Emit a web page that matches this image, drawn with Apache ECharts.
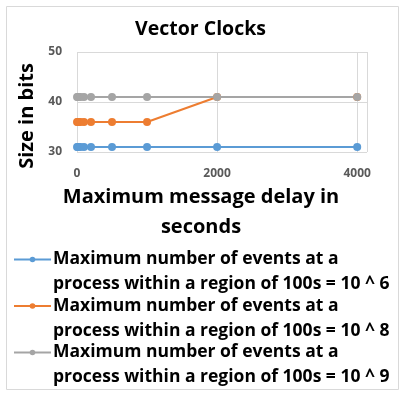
<!DOCTYPE html>
<html>
<head>
<meta charset="utf-8">
<script src="https://cdn.jsdelivr.net/npm/echarts@6/dist/echarts.min.js"></script>
<style>html,body{margin:0;padding:0;background:#fff}#c{width:401px;height:393px}</style>
</head>
<body>
<div id="c"></div>
<script>
var delays = [1, 10, 25, 50, 100, 200, 500, 1000, 2000, 4000];
var series6 = [31, 31, 31, 31, 31, 31, 31, 31, 31, 31];
var series8 = [36, 36, 36, 36, 36, 36, 36, 36, 41, 41];
var series9 = [41, 41, 41, 41, 41, 41, 41, 41, 41, 41];
var names = [
  'Maximum number of events at a\nprocess within a region of 100s = 10 ^ 6',
  'Maximum number of events at a\nprocess within a region of 100s = 10 ^ 8',
  'Maximum number of events at a\nprocess within a region of 100s = 10 ^ 9'
];
var colors = ['#5b9bd5', '#ed7d31', '#a5a5a5'];
var FONT = 'Open Sans';

function pairs(vals) { return delays.map(function (d, i) { return [d, vals[i]]; }); }
function mk(name, vals, color) {
  return {
    name: name, type: 'line', data: pairs(vals),
    symbol: 'circle', symbolSize: 8,
    lineStyle: { color: color, width: 2 },
    itemStyle: { color: color },
    animation: false
  };
}

var chart = echarts.init(document.getElementById('c'));
chart.setOption({
  animation: false,
  title: {
    text: 'Vector Clocks', left: 'center', top: 14,
    textStyle: { fontFamily: FONT, fontSize: 19.5, fontWeight: 'bold', color: '#000' }
  },
  grid: { left: 77, right: 34, top: 52, bottom: 241 },
  xAxis: {
    type: 'value', min: 0, max: 4140, interval: 2000,
    axisLine: { show: false },
    axisTick: { show: false },
    splitLine: { show: true, lineStyle: { color: '#d9d9d9', width: 1 } },
    axisLabel: {
      fontFamily: FONT, fontSize: 12, fontWeight: 'bold', color: '#595959', margin: 16,
      formatter: function (v) { return (v % 2000 === 0) ? String(v) : ''; }
    },
    name: 'Maximum message delay in\nseconds', nameLocation: 'middle', nameGap: 30,
    nameTextStyle: { fontFamily: FONT, fontSize: 20, fontWeight: 'bold', color: '#000', lineHeight: 30, padding: [0, 42, 0, 0] }
  },
  yAxis: {
    type: 'value', min: 30, max: 50, interval: 10,
    axisLine: { show: false },
    axisTick: { show: false },
    splitLine: { show: true, lineStyle: { color: '#d9d9d9', width: 1 } },
    axisLabel: { fontFamily: FONT, fontSize: 12, fontWeight: 'bold', color: '#595959', margin: 15 },
    name: 'Size in bits', nameLocation: 'middle', nameGap: 25,
    nameTextStyle: { fontFamily: FONT, fontSize: 20, fontWeight: 'bold', color: '#000', padding: [0, 28, 0, 0] }
  },
  legend: {
    orient: 'vertical', left: 8, top: 217, height: 190, itemGap: -28.5,
    itemWidth: 37, itemHeight: 7,
    data: names,
    formatter: function (n) { return '\n' + n; },
    textStyle: { fontFamily: FONT, fontSize: 17.5, fontWeight: 'bold', color: '#000', lineHeight: 25, padding: [0, 0, 0, -3] }
  },
  graphic: [
    { type: 'rect', left: 4, top: 4, shape: { width: 392, height: 383 }, style: { fill: 'none', stroke: '#d9d9d9', lineWidth: 1 }, silent: true },
    { type: 'line', shape: { x1: 367.5, y1: 52, x2: 367.5, y2: 152 }, style: { stroke: '#d9d9d9', lineWidth: 1 }, silent: true }
  ],
  series: [
    mk(names[0], series6, colors[0]),
    mk(names[1], series8, colors[1]),
    mk(names[2], series9, colors[2])
  ]
});
</script>
</body>
</html>
